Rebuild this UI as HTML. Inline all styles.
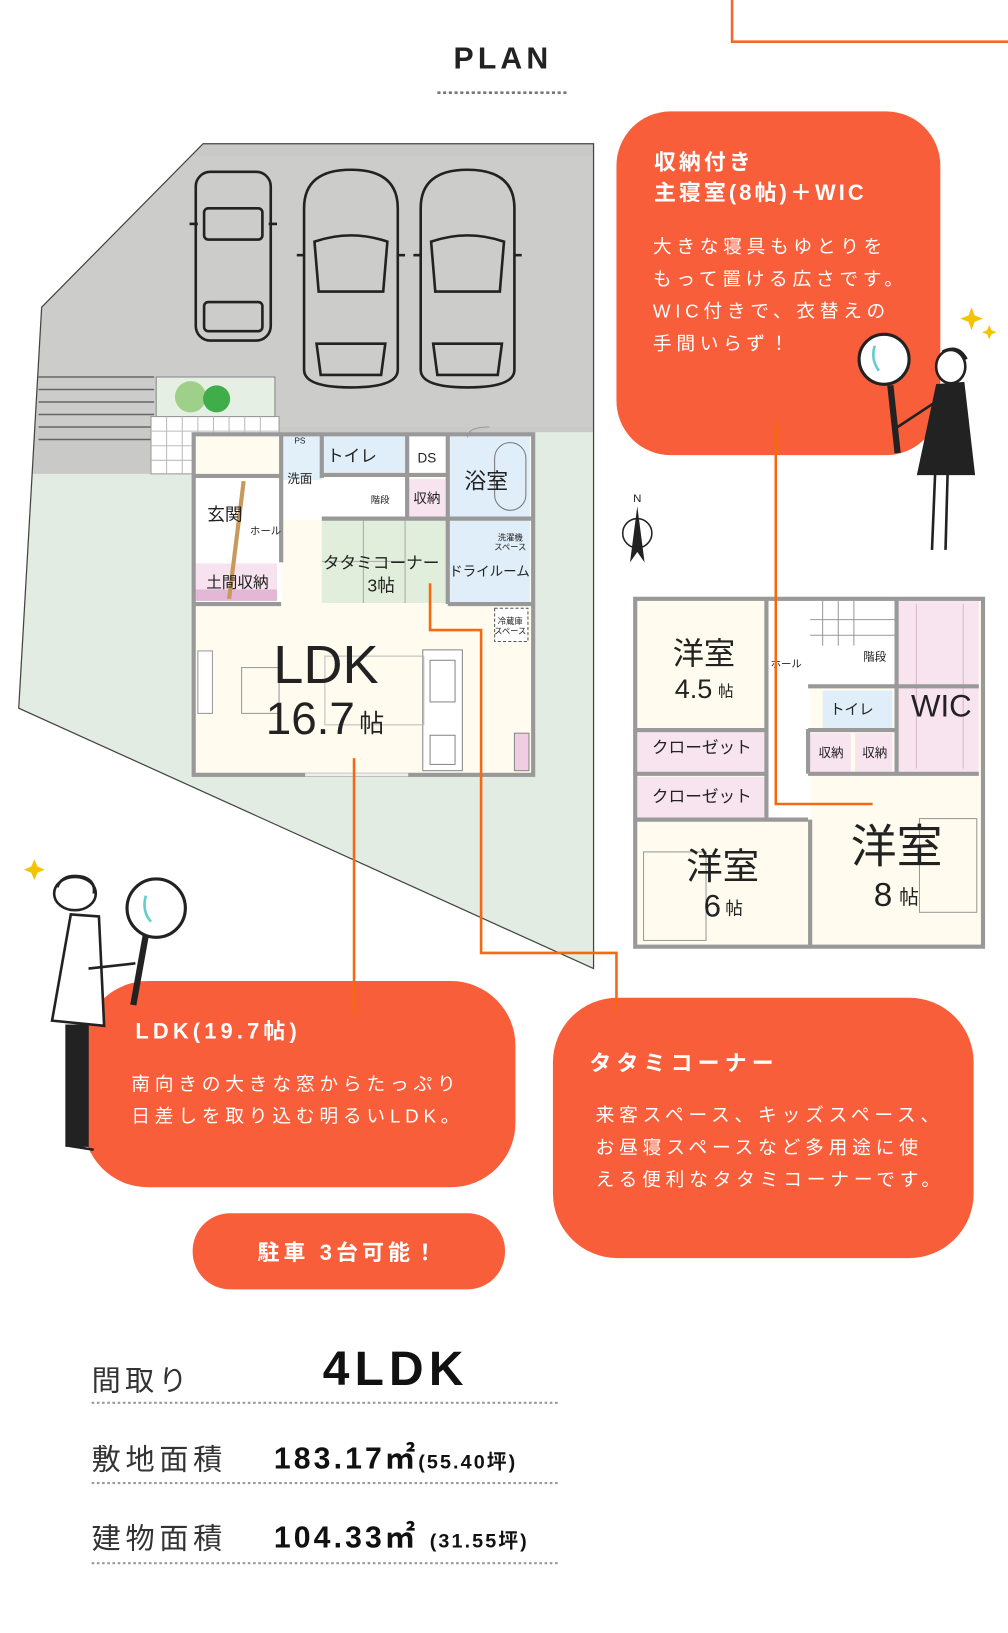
<!DOCTYPE html>
<html><head><meta charset="utf-8">
<style>
html,body{margin:0;padding:0;background:#fff;}
svg{display:block;}
text{font-family:"Liberation Sans","Noto Sans CJK JP",sans-serif;}
</style></head>
<body>
<svg width="1008" height="1633" viewBox="0 0 968 1568" preserveAspectRatio="none" xmlns="http://www.w3.org/2000/svg">
<polyline points="703,0 703,40 968,40" fill="none" stroke="#f3692c" stroke-width="2.5"/>
<text x="483" y="66" text-anchor="middle" font-size="29" font-weight="bold" letter-spacing="4" fill="#222">PLAN</text>
<line x1="420" y1="89" x2="545" y2="89" stroke="#777" stroke-width="2.5" stroke-dasharray="3,2.5"/>

<defs><clipPath id="site"><polygon points="40,295 195,138 570,138 570,930 18,680"/></clipPath></defs>
<polygon points="40,295 195,138 570,138 570,930 18,680" fill="#e2ece2"/>
<g clip-path="url(#site)">
<rect x="0" y="130" width="580" height="285" fill="#c9c9c7"/>
<rect x="0" y="400" width="150" height="55" fill="#c9c9c7"/>
<rect x="30" y="150" width="540" height="260" fill="#cfcfcd" opacity="0.6"/>
</g>
<polygon points="40,295 195,138 570,138 570,930 18,680" fill="none" stroke="#444" stroke-width="1.2"/>
<g stroke="#666" stroke-width="1.5">
<line x1="37" y1="362" x2="148" y2="362"/><line x1="37" y1="374" x2="148" y2="374"/>
<line x1="37" y1="386" x2="148" y2="386"/><line x1="37" y1="398" x2="148" y2="398"/>
<line x1="37" y1="410" x2="148" y2="410"/><line x1="37" y1="422" x2="148" y2="422"/>
</g>
<rect x="150" y="362" width="114" height="38" fill="#e6efe4" stroke="#888"/>
<circle cx="183" cy="381" r="15" fill="#9fd08a"/><circle cx="208" cy="383" r="13" fill="#3fae4a"/>
<rect x="145" y="400" width="123" height="55" fill="#fff" stroke="#999"/>
<g stroke="#bbb" stroke-width="1">
<line x1="145" y1="414" x2="268" y2="414"/><line x1="145" y1="428" x2="268" y2="428"/><line x1="145" y1="442" x2="268" y2="442"/>
<line x1="160" y1="400" x2="160" y2="455"/><line x1="175" y1="400" x2="175" y2="455"/><line x1="190" y1="400" x2="190" y2="455"/>
<line x1="205" y1="400" x2="205" y2="455"/><line x1="220" y1="400" x2="220" y2="455"/><line x1="235" y1="400" x2="235" y2="455"/><line x1="250" y1="400" x2="250" y2="455"/>
</g>
<path d="M205 455 A38 38 0 0 1 243 417 L243 455" fill="none" stroke="#555"/>

<g fill="none" stroke="#222" stroke-width="2.5">
<rect x="188" y="165" width="72" height="162" rx="14"/>
<rect x="196" y="200" width="56" height="30" rx="4"/><rect x="196" y="290" width="56" height="28" rx="4"/>
<line x1="182" y1="215" x2="190" y2="215"/><line x1="258" y1="215" x2="266" y2="215"/>
<path d="M292 200 Q292 163 337 163 Q382 163 382 200 L382 355 Q382 372 337 372 Q292 372 292 355 Z"/>
<path d="M302 232 Q337 220 372 232 L368 280 L306 280 Z"/><path d="M304 330 L370 330 L366 360 L308 360 Z"/>
<line x1="285" y1="245" x2="292" y2="245"/><line x1="382" y1="245" x2="389" y2="245"/>
<path d="M404 200 Q404 163 449 163 Q494 163 494 200 L494 355 Q494 372 449 372 Q404 372 404 355 Z"/>
<path d="M414 232 Q449 220 484 232 L480 280 L418 280 Z"/><path d="M416 330 L482 330 L478 360 L420 360 Z"/>
<line x1="397" y1="245" x2="404" y2="245"/><line x1="494" y1="245" x2="501" y2="245"/>
</g>

<rect x="186" y="417" width="326" height="327" fill="#fffcef"/>
<rect x="186" y="457" width="84" height="121" fill="#fff"/>
<rect x="188" y="541" width="78" height="36" fill="#f7e3ef"/>
<rect x="188" y="566" width="78" height="11" fill="#e2b8d6"/>
<line x1="234" y1="462" x2="220" y2="575" stroke="#c79a5a" stroke-width="4"/>
<rect x="270" y="417" width="39" height="44" fill="#e1f0f9"/>
<rect x="270" y="461" width="40" height="38" fill="#fff"/>
<rect x="310" y="419" width="81" height="35" fill="#dfeef9"/>
<rect x="310" y="455" width="82" height="42" fill="#fff"/>
<rect x="392" y="419" width="38" height="37" fill="#fff"/>
<rect x="392" y="460" width="38" height="36" fill="#f8e4ef"/>
<rect x="432" y="419" width="77" height="79" fill="#dfeef9"/>
<rect x="309" y="499" width="120" height="80" fill="#e0eedb"/>
<g stroke="#aaa" stroke-width="1"><line x1="349" y1="499" x2="349" y2="579"/><line x1="389" y1="499" x2="389" y2="579"/><line x1="309" y1="539" x2="389" y2="539"/></g>
<rect x="432" y="500" width="77" height="79" fill="#dfeef9"/>
<rect x="475" y="584" width="32" height="32" fill="#fff" stroke="#555" stroke-dasharray="3,2"/>
<rect x="406" y="624" width="38" height="116" fill="#fff" stroke="#888"/>
<rect x="413" y="634" width="24" height="40" fill="none" stroke="#888"/>
<rect x="413" y="706" width="24" height="28" fill="none" stroke="#888"/>
<rect x="232" y="641" width="36" height="44" fill="none" stroke="#999"/>
<rect x="312" y="630" width="95" height="66" fill="none" stroke="#bbb"/>
<rect x="190" y="625" width="14" height="60" fill="#fff" stroke="#999"/>
<rect x="494" y="704" width="14" height="36" fill="#f0cde2" stroke="#888"/>
<path d="M449 420 Q449 410 470 410" fill="none" stroke="#999"/>
<rect x="475" y="425" width="30" height="65" rx="15" fill="none" stroke="#777"/>
<g fill="none" stroke="#999" stroke-width="4">
<rect x="186" y="417" width="326" height="327"/>
<line x1="186" y1="457" x2="270" y2="457"/><line x1="270" y1="417" x2="270" y2="540"/>
<line x1="186" y1="580" x2="270" y2="580"/><line x1="309" y1="417" x2="309" y2="459"/>
<line x1="310" y1="456" x2="430" y2="456"/><line x1="391" y1="417" x2="391" y2="497"/>
<line x1="430" y1="417" x2="430" y2="580"/><line x1="309" y1="498" x2="512" y2="498"/>
<line x1="430" y1="580" x2="512" y2="580"/>
</g>
<line x1="293" y1="744" x2="392" y2="744" stroke="#eee" stroke-width="3"/>
<g fill="#222">
<text x="288" y="464" font-size="12" text-anchor="middle">洗面</text>
<text x="288" y="426" font-size="8" text-anchor="middle">PS</text>
<text x="338" y="443" font-size="16" text-anchor="middle">トイレ</text>
<text x="410" y="444" font-size="13" text-anchor="middle">DS</text>
<text x="467" y="469" font-size="21" text-anchor="middle">浴室</text>
<text x="410" y="483" font-size="13" text-anchor="middle">収納</text>
<text x="365" y="483" font-size="9" text-anchor="middle">階段</text>
<text x="216" y="500" font-size="17" text-anchor="middle">玄関</text>
<text x="255" y="513" font-size="10" text-anchor="middle">ホール</text>
<text x="228" y="564" font-size="15" text-anchor="middle">土間収納</text>
<text x="366" y="546" font-size="16" text-anchor="middle">タタミコーナー</text>
<text x="366" y="568" font-size="17" text-anchor="middle">3帖</text>
<text x="470" y="553" font-size="13" text-anchor="middle">ドライルーム</text>
<text x="490" y="519" font-size="8" text-anchor="middle">洗濯機</text>
<text x="490" y="528" font-size="8" text-anchor="middle">スペース</text>
<text x="490" y="599" font-size="8" text-anchor="middle">冷蔵庫</text>
<text x="490" y="609" font-size="8" text-anchor="middle">スペース</text>
<text x="313" y="656" font-size="52" text-anchor="middle">LDK</text>
<text x="298" y="705" font-size="44" text-anchor="middle">16.7</text>
<text x="357" y="703" font-size="24" text-anchor="middle">帖</text>
</g>

<text x="612" y="482" font-size="11" text-anchor="middle" fill="#222">N</text>
<circle cx="612" cy="512" r="14" fill="none" stroke="#222" stroke-width="1.5"/>
<polygon points="612,486 605,540 612,530 619,540" fill="#222"/>

<rect x="610" y="575" width="334" height="334" fill="#fffcef"/>
<rect x="736" y="575" width="42" height="212" fill="#fff"/>
<rect x="778" y="575" width="83" height="84" fill="#fff"/>
<g stroke="#999" stroke-width="1"><line x1="778" y1="595" x2="861" y2="595"/><line x1="778" y1="610" x2="861" y2="610"/><line x1="790" y1="575" x2="790" y2="620"/><line x1="805" y1="575" x2="805" y2="620"/><line x1="820" y1="575" x2="820" y2="620"/></g>
<rect x="790" y="663" width="67" height="36" fill="#dfeef9"/>
<rect x="777" y="704" width="40" height="37" fill="#f8e4ef"/>
<rect x="821" y="704" width="36" height="37" fill="#f8e4ef"/>
<rect x="862" y="575" width="78" height="166" fill="#f8e4ef"/>
<g stroke="#d8b8c8" stroke-width="1"><line x1="880" y1="580" x2="880" y2="738"/><line x1="925" y1="580" x2="925" y2="738"/></g>
<rect x="612" y="701" width="122" height="40" fill="#f8e4ef"/>
<rect x="612" y="746" width="122" height="40" fill="#f8e4ef"/>
<rect x="883" y="786" width="55" height="90" fill="none" stroke="#999"/>
<rect x="618" y="818" width="60" height="85" fill="none" stroke="#999"/>
<g fill="none" stroke="#999" stroke-width="4">
<rect x="610" y="575" width="334" height="334"/>
<line x1="736" y1="575" x2="736" y2="787"/><line x1="610" y1="701" x2="736" y2="701"/>
<line x1="610" y1="743" x2="736" y2="743"/><line x1="610" y1="787" x2="776" y2="787"/>
<line x1="778" y1="787" x2="778" y2="909"/><line x1="776" y1="659" x2="940" y2="659"/>
<line x1="861" y1="575" x2="861" y2="743"/><line x1="776" y1="701" x2="860" y2="701"/>
<line x1="776" y1="743" x2="940" y2="743"/><line x1="776" y1="700" x2="776" y2="743"/>
</g>
<g fill="#222">
<text x="676" y="638" font-size="30" text-anchor="middle">洋室</text>
<text x="666" y="670" font-size="26" text-anchor="middle">4.5</text>
<text x="697" y="669" font-size="15" text-anchor="middle">帖</text>
<text x="674" y="723" font-size="16" text-anchor="middle">クローゼット</text>
<text x="674" y="770" font-size="16" text-anchor="middle">クローゼット</text>
<text x="694" y="844" font-size="35" text-anchor="middle">洋室</text>
<text x="684" y="880" font-size="30" text-anchor="middle">6</text>
<text x="705" y="878" font-size="17" text-anchor="middle">帖</text>
<text x="861" y="828" font-size="44" text-anchor="middle">洋室</text>
<text x="848" y="870" font-size="32" text-anchor="middle">8</text>
<text x="873" y="868" font-size="19" text-anchor="middle">帖</text>
<text x="904" y="688" font-size="30" text-anchor="middle">WIC</text>
<text x="818" y="686" font-size="14" text-anchor="middle">トイレ</text>
<text x="798" y="727" font-size="12" text-anchor="middle">収納</text>
<text x="840" y="727" font-size="12" text-anchor="middle">収納</text>
<text x="840" y="634" font-size="11" text-anchor="middle">階段</text>
<text x="755" y="641" font-size="10" text-anchor="middle">ホール</text>
</g>

<g fill="#f95e3b">
<rect x="592" y="107" width="311" height="330" rx="52"/>
<rect x="80" y="942" width="415" height="198" rx="62"/>
<rect x="531" y="958" width="404" height="250" rx="62"/>
<rect x="185" y="1165" width="300" height="73" rx="36"/>
</g>
<g fill="none" stroke="#f36a12" stroke-width="2.5">
<polyline points="745,405 745,772 838,772"/>
<polyline points="340,728 340,975"/>
<polyline points="413,560 413,605 462,605 462,915 592,915 592,975"/>
</g>

<g fill="#fff" font-weight="bold">
<text x="628" y="163" font-size="21" letter-spacing="3">収納付き</text>
<text x="628" y="192" font-size="21" letter-spacing="3">主寝室(8帖)＋WIC</text>
<text x="130" y="997" font-size="21" letter-spacing="4">LDK(19.7帖)</text>
<text x="566" y="1028" font-size="21" letter-spacing="5">タタミコーナー</text>
<text x="335" y="1210" font-size="21" letter-spacing="4" text-anchor="middle">駐車 3台可能！</text>
</g>
<g fill="#fff" font-size="18" letter-spacing="4.5">
<text x="627" y="243">大きな寝具もゆとりを</text>
<text x="627" y="274">もって置ける広さです。</text>
<text x="627" y="305">WIC付きで、衣替えの</text>
<text x="627" y="336">手間いらず！</text>
</g>
<g fill="#fff" font-size="18" letter-spacing="4.6">
<text x="126" y="1047">南向きの大きな窓からたっぷり</text>
<text x="126" y="1078">日差しを取り込む明るいLDK。</text>
<text x="572" y="1077">来客スペース、キッズスペース、</text>
<text x="572" y="1108">お昼寝スペースなど多用途に使</text>
<text x="572" y="1139">える便利なタタミコーナーです。</text>
</g>

<g stroke="#222" stroke-width="2.5" fill="none">
<ellipse cx="913" cy="352" rx="14" ry="16" fill="#fff"/>
<path d="M905 338 Q920 330 928 345" stroke-width="3"/>
<polygon points="900,370 925,368 935,455 882,455" fill="#222"/>
<line x1="898" y1="455" x2="895" y2="528"/><line x1="910" y1="455" x2="908" y2="528"/>
<circle cx="849" cy="345" r="24" fill="#fff" stroke-width="3"/>
<path d="M840 332 Q836 345 844 356" stroke="#6cc"/>
<line x1="855" y1="370" x2="862" y2="435" stroke-width="6"/>
<line x1="900" y1="385" x2="862" y2="410"/>
</g>
<path d="M933 295 l3 8 8 3 -8 3 -3 8 -3 -8 -8 -3 8 -3z" fill="#f5c400"/>
<path d="M950 312 l2 5 5 2 -5 2 -2 5 -2 -5 -5 -2 5 -2z" fill="#f5c400"/>
<path d="M33 825 l3 7 7 3 -7 3 -3 7 -3 -7 -7 -3 7 -3z" fill="#f5c400"/>
<g stroke="#222" stroke-width="2.5" fill="none">
<ellipse cx="72" cy="858" rx="20" ry="16" fill="#fff"/>
<path d="M55 852 Q60 838 80 842 Q92 846 90 858"/>
<path d="M68 878 L50 980 L100 985 L95 880 Z" fill="#fff"/>
<line x1="85" y1="930" x2="130" y2="925"/>
<rect x="64" y="985" width="20" height="115" fill="#222"/>
<line x1="65" y1="1100" x2="90" y2="1104"/>
<circle cx="150" cy="872" r="28" fill="#fff" stroke-width="3"/>
<path d="M140 860 Q136 875 145 885" stroke="#6cc"/>
<line x1="140" y1="898" x2="128" y2="965" stroke-width="6"/>
</g>

<g fill="#333">
<text x="88" y="1335" font-size="28" letter-spacing="4">間取り</text>
<text x="380" y="1330" font-size="46" font-weight="bold" letter-spacing="5" text-anchor="middle" fill="#111">4LDK</text>
<text x="88" y="1411" font-size="28" letter-spacing="4.5">敷地面積</text>
<text x="263" y="1410" font-size="29" font-weight="bold" letter-spacing="3" fill="#111">183.17㎡<tspan font-size="19" letter-spacing="2">(55.40坪)</tspan></text>
<text x="88" y="1487" font-size="28" letter-spacing="4.5">建物面積</text>
<text x="263" y="1486" font-size="29" font-weight="bold" letter-spacing="3" fill="#111">104.33㎡ <tspan font-size="19" letter-spacing="2">(31.55坪)</tspan></text>
</g>
<g stroke="#999" stroke-width="2" stroke-dasharray="2.5,2.5">
<line x1="88" y1="1347" x2="537" y2="1347"/>
<line x1="88" y1="1424" x2="537" y2="1424"/>
<line x1="88" y1="1501" x2="537" y2="1501"/>
</g>
</svg>
</body></html>
